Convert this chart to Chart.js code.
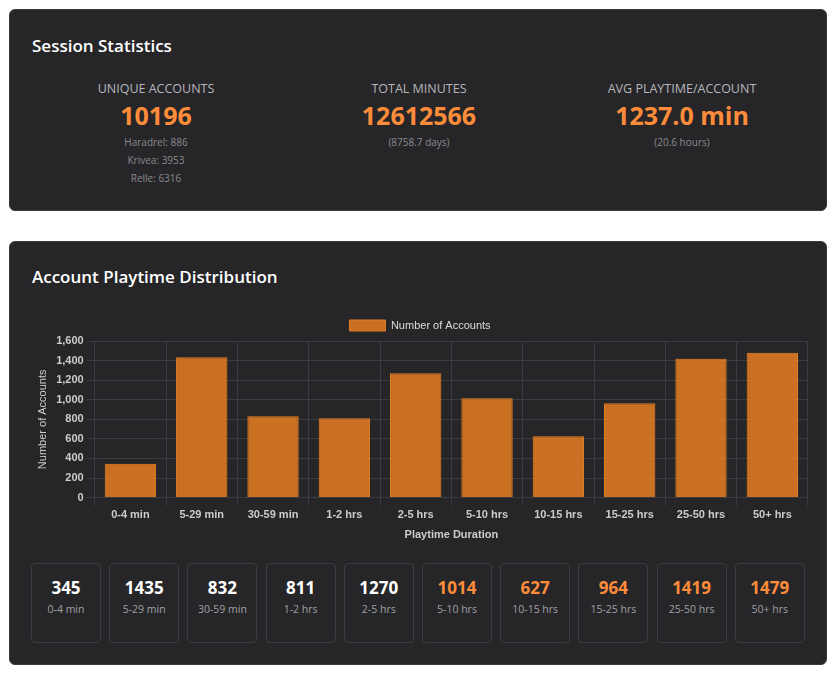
<!DOCTYPE html>
<html><head><meta charset="utf-8">
<script src="https://cdn.jsdelivr.net/npm/chart.js@4"></script>
<style>
body{margin:0;background:#fff;font-family:"Open Sans","Noto Sans",sans-serif;width:838px;height:675px;overflow:hidden}
.card{position:absolute;left:9px;width:818px;background:#262628;border-radius:6px;border:1px solid #3a3a3c;box-sizing:border-box}
h2{position:absolute;left:22px;margin:0;color:#fff;font-size:17px;font-weight:600}
.stat{position:absolute;top:70px;width:260px;text-align:center}
.lbl{color:#b6b6bc;font-size:12.5px}
.val{color:#ff8c3a;font-size:25px;font-weight:700;margin-top:2px;line-height:32px}
.sub{color:#8a8a90;font-size:10px;line-height:18px;margin-top:2px}
.box{position:absolute;top:321px;width:70px;height:80px;border:1px solid #3c3c40;border-radius:4px;box-sizing:border-box;text-align:center}
.box .n{font-size:17px;font-weight:700;margin-top:12px;color:#fff}
.box .c{font-size:10.5px;color:#a0a0a6;margin-top:3px;line-height:14px;padding:0 8px}
</style></head><body>
<div class="card" style="top:9px;height:202px">
<h2 style="top:24px">Session Statistics</h2>
<div class="stat" style="left:16px"><div class="lbl">UNIQUE ACCOUNTS</div><div class="val">10196</div><div class="sub">Haradrel: 886<br>Krivea: 3953<br>Relle: 6316</div></div>
<div class="stat" style="left:279px"><div class="lbl">TOTAL MINUTES</div><div class="val">12612566</div><div class="sub">(8758.7 days)</div></div>
<div class="stat" style="left:542px"><div class="lbl">AVG PLAYTIME/ACCOUNT</div><div class="val">1237.0 min</div><div class="sub">(20.6 hours)</div></div>
</div>
<div class="card" style="top:241px;height:424px" id="c2">
<h2 style="top:23px">Account Playtime Distribution</h2>
<div style="position:absolute;left:22px;top:68px;width:776px;height:236px"><canvas id="ch"></canvas></div>
</div>
<script>
const categories=["0-4 min","5-29 min","30-59 min","1-2 hrs","2-5 hrs","5-10 hrs","10-15 hrs","15-25 hrs","25-50 hrs","50+ hrs"];
const accounts=[345,1435,832,811,1270,1014,627,964,1419,1479];
const c2=document.getElementById('c2');
categories.forEach((c,i)=>{const d=document.createElement('div');d.className='box';d.style.left=(21+i*78.2)+'px';
d.innerHTML='<div class="n" style="color:'+(i>=5?'#ff8c3a':'#fff')+'">'+accounts[i]+'</div><div class="c">'+c+'</div>';c2.appendChild(d);});
Chart.defaults.font.family='"Liberation Sans",Arial,sans-serif';
new Chart(document.getElementById('ch'),{type:'bar',data:{labels:categories,datasets:[{label:'Number of Accounts',data:accounts,backgroundColor:'rgba(230,126,34,0.85)',borderColor:'#e67e22',borderWidth:1}]},
options:{responsive:true,maintainAspectRatio:false,animation:false,
plugins:{legend:{labels:{color:'#ddd',font:{size:11},boxWidth:36,boxHeight:11}}},
scales:{y:{beginAtZero:true,max:1600,ticks:{stepSize:200,color:'#ccc',font:{size:11,weight:'bold'}},grid:{color:'#3c3c40'},border:{color:'#3c3c40'},title:{display:true,text:'Number of Accounts',color:'#ccc',font:{size:11}}},
x:{ticks:{color:'#ccc',font:{size:11,weight:'bold'}},grid:{color:'#3c3c40'},border:{color:'#3c3c40'},title:{display:true,text:'Playtime Duration',color:'#ccc',font:{size:11,weight:'bold'}}}}}});
</script></body></html>
